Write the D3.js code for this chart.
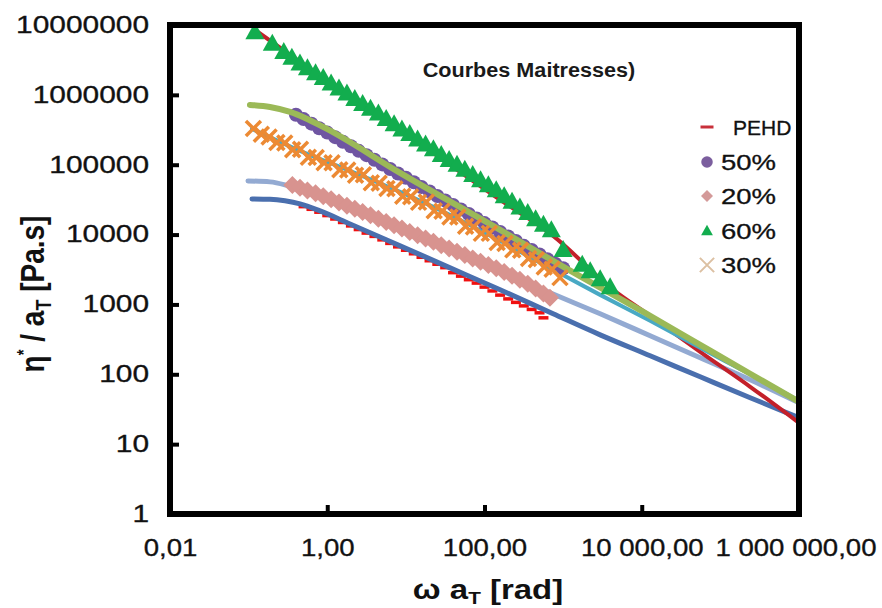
<!DOCTYPE html>
<html><head><meta charset="utf-8">
<script src="https://cdn.jsdelivr.net/npm/d3@7"></script>
<style>
body{margin:0;background:#fff}
svg{display:block}
text{font-family:"Liberation Sans",Arial,sans-serif}
</style>
</head><body>
<svg id="chart" width="882" height="608"></svg>
<script>
// ---------- data ----------
const xTickValues = [0.01, 1, 100, 1e4, 1e6];
const xTickLabels = ["0,01", "1,00", "100,00", "10 000,00", "1 000 000,00"];
const yTickValues = [1, 10, 100, 1000, 1e4, 1e5, 1e6, 1e7];
const yTickLabels = ["1", "10", "100", "1000", "10000", "100000", "1000000", "10000000"];
const seriesNames = ["PEHD", "50%", "20%", "60%", "30%"];

// PEHD (red dashes)
const pehdX = [0.50,0.63,0.79,1.0,1.26,1.58,2.0,2.51,3.16,3.98,5.01,6.31,7.94,10,12.6,15.8,20,25.1,31.6,39.8,50.1,63.1,79.4,100,126,158,200,251,316,398,501,562];
const pehdY = [25100,23000,20900,18700,16700,14900,13300,11800,10500,9420,8400,7480,6670,5960,5310,4730,4220,3760,3360,2850,2540,2260,2020,1770,1560,1360,1200,1070,953,848,759,643];
// 50 % (purple circles)
const p50X = [0.40,0.50,0.63,0.79,1.0,1.26,1.58,2.0,2.51,3.16,3.98,5.01,6.31,7.94,10,12.6,15.8,20,25.1,31.6,39.8,50.1,63.1,79.4,100,126,158,200,251,316,398,501,631,794,1000];
const p50Y = [520000,450000,387000,333000,288000,248000,213000,184000,158000,137000,118000,101000,87000,75000,65000,56000,48000,41500,35700,30800,26500,22900,19700,17000,14600,12600,10900,9400,8100,6900,6000,5200,4450,3830,3300];
// 20 % (pink diamonds)
const p20X = [0.36,0.45,0.56,0.71,0.89,1.12,1.41,1.78,2.24,2.82,3.55,4.47,5.62,7.08,8.91,11.2,14.1,17.8,22.4,28.2,35.5,44.7,56.2,70.8,89.1,112,141,178,224,282,355,447,562,680];
const p20Y = [51200,46800,42800,39000,35500,32000,28800,25900,23400,21000,18900,16900,15100,13600,12200,10900,9770,8770,7870,7060,6330,5680,5090,4560,4090,3670,3290,2920,2570,2260,1980,1690,1430,1250];
// 60 % (green triangles)
const p60X = [0.12,0.20,0.28,0.355,0.45,0.56,0.71,0.89,1.12,1.41,1.78,2.24,2.82,3.55,4.47,5.62,7.08,8.91,11.2,14.1,17.8,22.4,28.2,35.5,44.7,56.2,70.8,89.1,112,141,178,224,282,355,447,562,708,1000,1750,2210,2960,3960];
const p60Y = [7.9e6,5.4e6,4.1e6,3.4e6,2.8e6,2.4e6,2.04e6,1.74e6,1.45e6,1.23e6,1.05e6,8.7e5,7.4e5,6.3e5,5.4e5,4.5e5,3.8e5,3.2e5,2.75e5,2.3e5,1.95e5,1.66e5,1.38e5,1.17e5,1.0e5,8.5e4,7.1e4,6.0e4,5.1e4,4.3e4,3.55e4,2.95e4,2.45e4,2.04e4,1.66e4,1.38e4,1.15e4,6000,3690,2980,2290,1760];
// 30 % (orange crosses)
const p30X = [0.115,0.145,0.182,0.229,0.288,0.363,0.457,0.575,0.724,0.912,1.15,1.445,1.82,2.29,2.88,3.63,4.57,5.75,7.24,9.12,11.5,14.5,18.2,22.9,28.8,36.3,45.7,57.5,72.4,91.2,115,145,182,229,288,363,457,575,724,912];
const p30Y = [330000,273000,250000,208000,204000,164000,167000,128000,127000,107000,107000,84500,84000,70500,72100,55000,54400,45600,45200,35400,34700,28900,29200,22000,21500,17900,17900,13200,12800,10400,10400,7710,7430,6040,5980,4550,4370,3430,3180,2420];

// model (master-curve fit) lines
const fitBlueX = [0.1104,0.187,0.290,0.451,0.810,1.95,8.44,36.5,158,746,2958,12790,55340,239400,1e6];
const fitBlueY = [32400,32000,30400,27500,21800,14200,6890,3340,1620,735,367,184,92,46.1,23.9];
const fitLightX = [0.0982,0.187,0.290,0.451,1.95,8.44,36.5,158,683,2958,12790,55340,239400,1e6];
const fitLightY = [58600,56800,51400,43600,24100,12500,6240,3030,1470,735,356,172,83.4,39.1];
const fitOliveX = [0.104,0.187,0.337,0.522,0.938,8.44,158,746,12790,55340,239400,1e6];
const fitOliveY = [718000,671000,569000,467000,336000,76300,11670,4200,687,264,101.7,40.4];
const fitTealX = [0.1104,0.251,0.451,1.95,8.44,36.5,158,746,2958,12790,55340,239400,1e6];
const fitTealY = [325000,212000,157500,81500,40800,19100,8130,3130,1370,582,239,100,41.8];
const fitRedX = [0.1205,0.451,8.44,158,746,4330,11720,55340,239400,1e6];
const fitRedY = [8.48e6,2.96e6,3.15e5,3.13e4,9580,1620,735,210,66.3,20.2];

// ---------- drawing ----------
const svg = d3.select("#chart");
const L = 170, R = 799, T = 25, B = 514;
const x = d3.scaleLog().domain([0.01, 1e6]).range([L, R]);
const y = d3.scaleLog().domain([1, 1e7]).range([B, T]);
const zip = (xs, ys) => xs.map((v, i) => [v, ys[i]]);

svg.append("rect").attr("width", 882).attr("height", 608).attr("fill", "#fff");

const stretch = (sel, sx) => sel.each(function () {
  const x0 = +this.getAttribute("x") || 0;
  this.setAttribute("transform", `translate(${x0 * (1 - sx)},0) scale(${sx},1)`);
});

// axes
const gx = svg.append("g").attr("transform", `translate(0,${B})`)
  .call(d3.axisBottom(x).tickValues(xTickValues)
    .tickFormat(d => xTickLabels[xTickValues.indexOf(d)])
    .tickSizeInner(-9).tickSizeOuter(0).tickPadding(26));
gx.select(".domain").remove();
gx.selectAll(".tick line").attr("stroke", "#000").attr("stroke-width", 4);
gx.selectAll(".tick text").attr("font-size", 23).attr("fill", "#111")
  .attr("stroke", "#111").attr("stroke-width", 0.3)
  .attr("font-family", "'Liberation Sans', Arial, sans-serif");
gx.selectAll(".tick text").filter(d => d === 1e6).attr("text-anchor", "end").attr("x", 876 - R);
stretch(gx.selectAll(".tick text"), 1.2);

const gy = svg.append("g").attr("transform", `translate(${L},0)`)
  .call(d3.axisLeft(y).tickValues(yTickValues)
    .tickFormat(d => yTickLabels[yTickValues.indexOf(d)])
    .tickSizeInner(-9).tickSizeOuter(0).tickPadding(21));
gy.select(".domain").remove();
gy.selectAll(".tick line").attr("stroke", "#000").attr("stroke-width", 4);
gy.selectAll(".tick text").attr("font-size", 23).attr("fill", "#111")
  .attr("stroke", "#111").attr("stroke-width", 0.3)
  .attr("font-family", "'Liberation Sans', Arial, sans-serif");
stretch(gy.selectAll(".tick text"), 1.3);

// line generator
const line = d3.line().x(d => x(d[0])).y(d => y(d[1])).curve(d3.curveMonotoneX);
const drawLine = (xs, ys, color, w) =>
  svg.append("path").datum(zip(xs, ys)).attr("d", line)
    .attr("fill", "none").attr("stroke", color).attr("stroke-width", w)
    .attr("stroke-linecap", "round").attr("stroke-linejoin", "round");

// marker shapes
const shapes = {
  dash: "M-5,0L5,0",
  circle: "M7,0A7,7 0 1 1 -7,0A7,7 0 1 1 7,0Z",
  diamond: "M0,-9L9,0L0,9L-9,0Z",
  triangle: "M0,-10L9.5,7L-9.5,7Z",
  cross: "M-7.5,-7.5L7.5,7.5M-7.5,7.5L7.5,-7.5"
};
const drawMarkers = (xs, ys, shape, color, stroked, sw) =>
  svg.append("g").selectAll("path").data(zip(xs, ys)).join("path")
    .attr("transform", d => `translate(${x(d[0])},${y(d[1])})`)
    .attr("d", shapes[shape])
    .attr("fill", stroked ? "none" : color)
    .attr("stroke", stroked ? color : "none")
    .attr("stroke-width", stroked ? sw : 0);

const C = {
  pehd: "#f01010", p50: "#6f55a2", p20: "#d8938f", p60: "#12ad4e", p30: "#ec8a34",
  blue: "#4a6fae", light: "#93aad2", olive: "#9bb957", teal: "#49a9c4", red: "#c3202a"
};

drawMarkers(pehdX, pehdY, "dash", C.pehd, true, 3.5);
drawLine(fitBlueX, fitBlueY, C.blue, 5);
drawLine(fitLightX, fitLightY, C.light, 5);
drawLine(fitRedX, fitRedY, C.red, 4);
drawLine(fitTealX, fitTealY, C.teal, 4);
drawMarkers(p50X, p50Y, "circle", C.p50, false);
drawLine(fitOliveX, fitOliveY, C.olive, 6);
drawMarkers(p20X, p20Y, "diamond", C.p20, false);
drawMarkers(p60X, p60Y, "triangle", C.p60, false);
drawMarkers(p30X, p30Y, "cross", C.p30, true, 3.5);

// frame
svg.append("rect").attr("x", L).attr("y", T).attr("width", R - L).attr("height", B - T)
  .attr("fill", "none").attr("stroke", "#000").attr("stroke-width", 6);

// title
const title = svg.append("text").attr("x", 529).attr("y", 77).attr("text-anchor", "middle")
  .attr("font-size", 21).attr("font-weight", "bold").attr("fill", "#1a1a1a")
  .text("Courbes Maitresses)");
stretch(title, 1.03);

// legend
const legend = [
  {name: seriesNames[0], shape: "dash", color: "#c8303a", stroked: true, sw: 3, cy: 127, s: 1.3},
  {name: seriesNames[1], shape: "circle", color: "#7b5e9e", stroked: false, cy: 162, s: 0.82},
  {name: seriesNames[2], shape: "diamond", color: "#d49a99", stroked: false, cy: 196, s: 0.67},
  {name: seriesNames[3], shape: "triangle", color: "#12ad4e", stroked: false, cy: 231, s: 0.62},
  {name: seriesNames[4], shape: "cross", color: "#dcc0a2", stroked: true, sw: 2, cy: 265, s: 0.95}
];
const lg = svg.append("g");
legend.forEach((e, i) => {
  lg.append("path").attr("d", shapes[e.shape])
    .attr("transform", `translate(707,${e.cy}) scale(${e.s})`)
    .attr("fill", e.stroked ? "none" : e.color)
    .attr("stroke", e.stroked ? e.color : "none")
    .attr("stroke-width", e.stroked ? e.sw / e.s : 0);
  const t = lg.append("text").attr("x", i === 0 ? 733 : 721).attr("y", e.cy + 7.8)
    .attr("font-size", i === 0 ? 21 : 22).attr("fill", "#111")
    .attr("stroke", "#111").attr("stroke-width", 0.3).text(e.name);
  stretch(t, i === 0 ? 1.0 : 1.25);
});

// x axis title
const xt = svg.append("text").attr("x", 488).attr("y", 599).attr("text-anchor", "middle")
  .attr("font-size", 27).attr("font-weight", "bold").attr("fill", "#111");
xt.append("tspan").text("ω a");
xt.append("tspan").attr("font-size", 17).attr("dy", 5).text("T");
xt.append("tspan").attr("dy", -5).text(" [rad]");
stretch(xt, 1.22);

// y axis title
const yt = svg.append("text").attr("text-anchor", "middle")
  .attr("transform", "translate(44,294) scale(1.2,1) rotate(-90)")
  .attr("font-size", 28).attr("font-weight", "bold").attr("fill", "#111");
yt.append("tspan").text("η");
yt.append("tspan").attr("font-size", 15).attr("dy", -12).text("*");
yt.append("tspan").attr("dy", 12).text(" / a");
yt.append("tspan").attr("font-size", 18).attr("dy", 6).text("T");
yt.append("tspan").attr("dy", -6).text(" [Pa.s]");
</script>
</body></html>
